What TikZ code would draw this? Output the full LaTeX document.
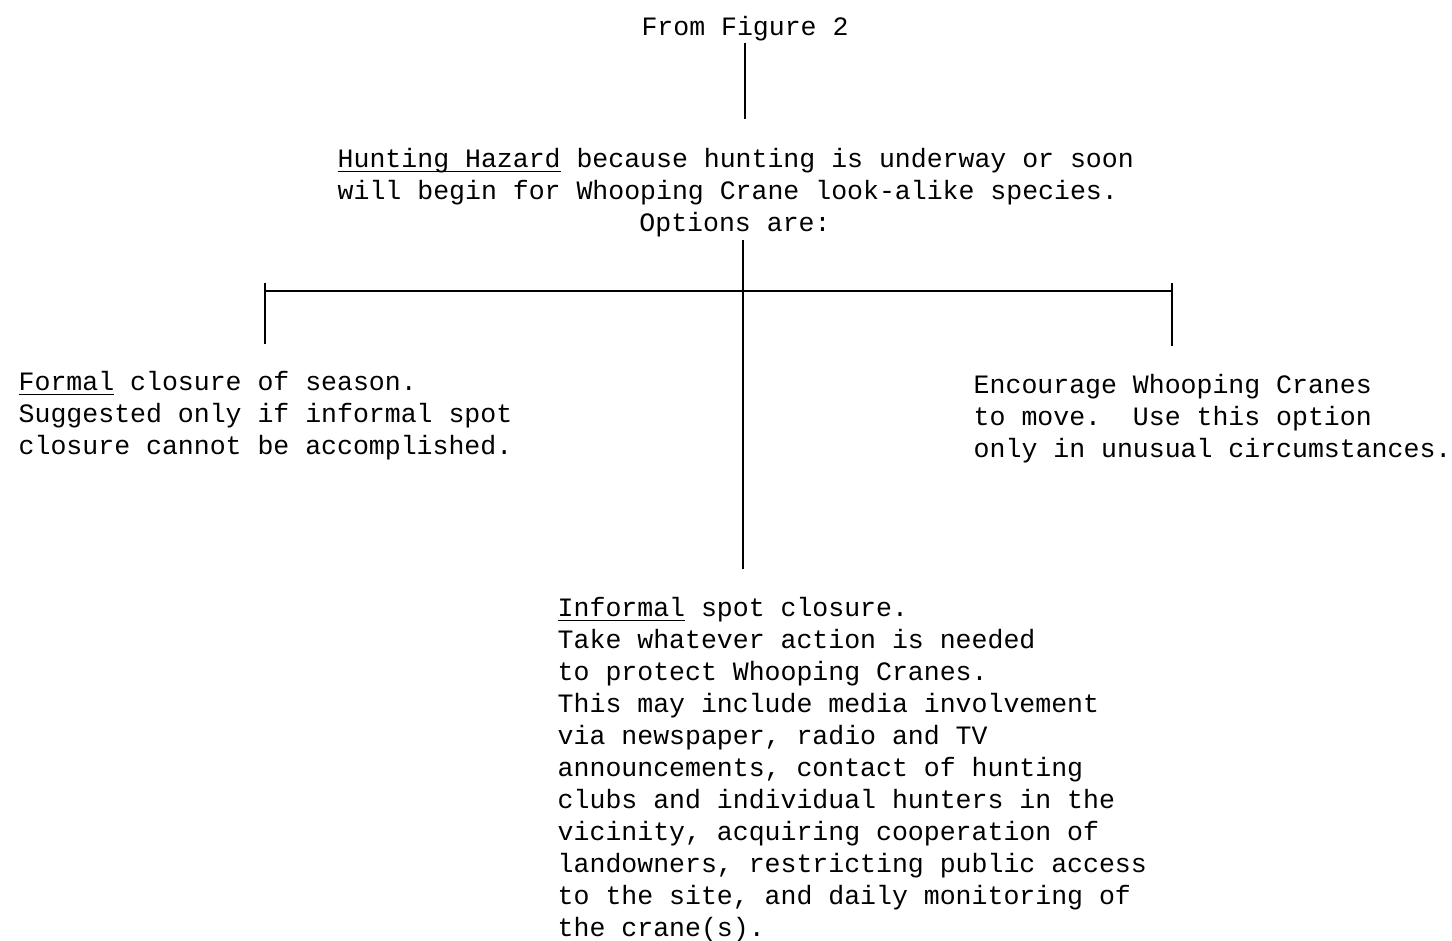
\documentclass[tikz,border=0pt]{standalone}
\usepackage{fontspec}
\setmonofont{Liberation Mono}
\usetikzlibrary{positioning}
\newcommand{\typeul}[1]{\setbox0\hbox{#1}\rlap{\rule[-3.8pt]{\wd0}{0.9pt}}#1}
\frenchspacing

\begin{document}
\begin{tikzpicture}[x=0.75pt,y=-0.75pt,line width=1.1pt,
        every node/.style={inner sep=0pt,
          font=\ttfamily\fontsize{19.9}{24}\selectfont,
      },
        textblock/.style={align=left, anchor=base west},
      ]
      \useasboundingbox (0,0) rectangle (1452,940);

      % base of a block = baseline of its last line
      \node[anchor=base] (from) at (745,35) {From Figure 2};
      \node[textblock] (hazard) at (337,199) {\typeul{Hunting Hazard} because hunting is underway or soon\\
        will begin for Whooping Crane look-alike species.};
      \node[anchor=base] (options) at (735,231) {Options are:};

      \node[textblock] (formal) at (18,454) {\typeul{Formal} closure of season.\\
        Suggested only if informal spot\\
        closure cannot be accomplished.};
      \node[textblock] (encourage) at (973,457) {Encourage Whooping Cranes\\
        to move.\ \ Use this option\\
        only in unusual circumstances.};
      \node[textblock] (informal) at (557,936) {\typeul{Informal} spot closure.\\
        Take whatever action is needed\\
        to protect Whooping Cranes.\\
        This may include media involvement\\
        via newspaper, radio and TV\\
        announcements, contact of hunting\\
        clubs and individual hunters in the\\
        vicinity, acquiring cooperation of\\
        landowners, restricting public access\\
        to the site, and daily monitoring of\\
        the crane(s).};

      \coordinate (hub) at (743,291);
      \coordinate (barL) at (265,291);
      \coordinate (barR) at (1172,291);

      \draw[shorten <=1pt, shorten >=21pt] (from.south) -- (from.south |- hazard.north);
      \draw[shorten <=2pt, shorten >=20pt] (hub |- options.south) -- (hub |- informal.north);
      \draw (barL) -- (barR);
      \draw[shorten >=19.5pt] ([yshift=6pt]barL) -- (barL |- formal.north);
      \draw[shorten >=20pt] ([yshift=6pt]barR) -- (barR |- encourage.north);
    \end{tikzpicture}
\end{document}
